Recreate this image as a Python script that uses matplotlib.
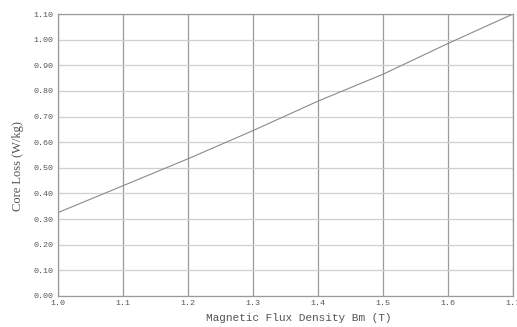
import numpy as np
import matplotlib
matplotlib.use("Agg")
import matplotlib.pyplot as plt

bm = [1.0, 1.1, 1.2, 1.3, 1.4, 1.5, 1.6, 1.7]
core_loss = [0.325, 0.43, 0.535, 0.645, 0.76, 0.865, 0.985, 1.10]
xticks = [1.0, 1.1, 1.2, 1.3, 1.4, 1.5, 1.6, 1.7]
yticks = [0.0, 0.1, 0.2, 0.3, 0.4, 0.5, 0.6, 0.7, 0.8, 0.9, 1.0, 1.1]

fig = plt.figure(figsize=(5.17, 3.27), dpi=100)
ax = fig.add_axes([0.112, 0.095, 0.880, 0.862])

font = "Liberation Mono"

ax.plot(bm, core_loss, color="#8a8a8a", linewidth=0.8)

ax.set_xlim(1.0, 1.7)
ax.set_ylim(0.0, 1.1)
ax.set_xticks(xticks)
ax.set_xticklabels(["%.1f" % v for v in xticks], fontsize=6, family=font, color="#555555")
ax.set_yticks(yticks)
ax.set_yticklabels(["%.2f" % v for v in yticks], fontsize=6, family=font, color="#555555")
ax.tick_params(length=0, pad=3)

for x in xticks:
    ax.axvline(x, color="#9a9a9a", linewidth=0.9, zorder=0)
for y in yticks:
    ax.axhline(y, color="#cfcfcf", linewidth=0.9, zorder=0)

for s in ax.spines.values():
    s.set_color("#9a9a9a")
    s.set_linewidth(0.9)

ax.set_xlabel("Magnetic Flux Density Bm (T)", fontsize=8, family=font, color="#555555")
ax.xaxis.set_label_coords(0.53, -0.06)
ax.set_ylabel("Core Loss (W/kg)", fontsize=9, family="Liberation Serif", color="#555555")
ax.yaxis.set_label_coords(-0.075, 0.46)

fig.savefig("out.png", dpi=100)
